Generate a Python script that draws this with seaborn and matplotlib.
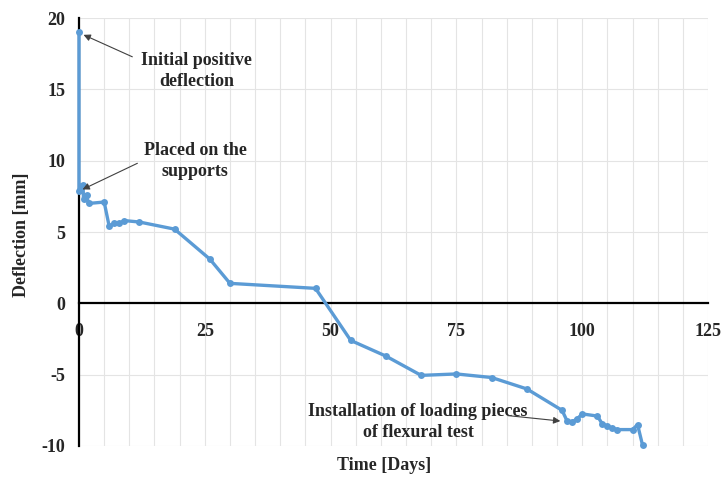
import matplotlib
matplotlib.use("Agg")
import matplotlib.pyplot as plt
import seaborn as sns
import pandas as pd

days = [0, 0, 0.3, 0.8, 0.9, 1.5, 1.9, 5.0, 6.0, 7.0, 8.0, 9.0, 12.0, 19.0, 26.0, 30.0,
        47.0, 54.0, 61.0, 68.0, 75.0, 82.0, 89.0, 96.0, 97.0, 98.0, 99.0, 100.0, 103.0,
        104.0, 105.0, 106.0, 107.0, 110.0, 111.0, 112.0]
deflection = [19.0, 7.9, 8.2, 8.3, 7.3, 7.6, 7.0, 7.1, 5.4, 5.6, 5.6, 5.8, 5.7, 5.2, 3.1, 1.4,
              1.05, -2.6, -3.7, -5.05, -4.95, -5.2, -6.0, -7.5, -8.25, -8.3, -8.1, -7.75, -7.9,
              -8.45, -8.6, -8.75, -8.85, -8.85, -8.5, -9.95]

x_ticks = [0, 25, 50, 75, 100, 125]
y_ticks = [-10, -5, 0, 5, 10, 15, 20]
x_label = "Time [Days]"
y_label = "Deflection [mm]"
notes = ["Initial positive\ndeflection", "Placed on the\nsupports",
         "Installation of loading pieces\nof flexural test"]

sns.set_style("white")
plt.rcParams['font.family'] = ['Liberation Serif', 'DejaVu Serif']
plt.rcParams['font.weight'] = 'bold'
plt.rcParams['axes.unicode_minus'] = False

fig = plt.figure(figsize=(7.25, 4.78), dpi=100)
ax = fig.add_axes([79/725, 1-446/478, (708-79)/725, (446-18)/478])

df = pd.DataFrame({"day": days, "defl": deflection})
sns.lineplot(data=df, x="day", y="defl", sort=False, estimator=None, ax=ax,
             color="#5B9BD5", linewidth=2.4, marker="o", markersize=5,
             markeredgewidth=0, zorder=3, clip_on=False)

ax.set_xlim(0, 125)
ax.set_ylim(-10, 20)
ax.set_xticks(x_ticks)
ax.set_yticks(y_ticks)
ax.set_xticks(range(0, 126, 5), minor=True)
ax.grid(True, which="both", axis="x", color="#e4e4e4", linewidth=0.8, zorder=0)
ax.grid(True, which="major", axis="y", color="#e4e4e4", linewidth=0.8, zorder=0)
ax.set_axisbelow(True)

for s in ["top", "right"]:
    ax.spines[s].set_visible(False)
ax.spines["bottom"].set_position(("data", 0))
ax.spines["bottom"].set_linewidth(1.6)
ax.spines["left"].set_linewidth(1.6)
ax.spines["bottom"].set_color("black")
ax.spines["left"].set_color("black")

ax.tick_params(axis="x", which="both", length=0, pad=14, labelsize=13)
ax.tick_params(axis="y", length=0, pad=10, labelsize=13)
for lab in ax.get_xticklabels() + ax.get_yticklabels():
    lab.set_fontweight("bold")
ax.set_xlabel("")
ax.set_ylabel("")

fig.text(384/725, 1-466/478, x_label, ha="center", va="center", fontsize=13, fontweight="bold")
fig.text(22/725, 1-235/478, y_label, ha="center", va="center", rotation=90, fontsize=13, fontweight="bold")

arrow = dict(arrowstyle="-|>", color="#404040", lw=0.8, mutation_scale=10)
ax.text(23.4, 16.3, notes[0], ha="center", va="center", fontsize=13, fontweight="bold", linespacing=1.3)
ax.annotate("", xy=(0.4, 18.9), xytext=(11.1, 17.2), arrowprops=arrow)
ax.text(23.1, 9.95, notes[1], ha="center", va="center", fontsize=13, fontweight="bold", linespacing=1.3)
ax.annotate("", xy=(0.2, 7.9), xytext=(12.1, 9.9), arrowprops=arrow)
ax.text(67.4, -8.34, notes[2], ha="center", va="center", fontsize=13, fontweight="bold", linespacing=1.3)
ax.annotate("", xy=(96.2, -8.27), xytext=(84.7, -7.85), arrowprops=arrow)

fig.savefig("out.png", dpi=100)
